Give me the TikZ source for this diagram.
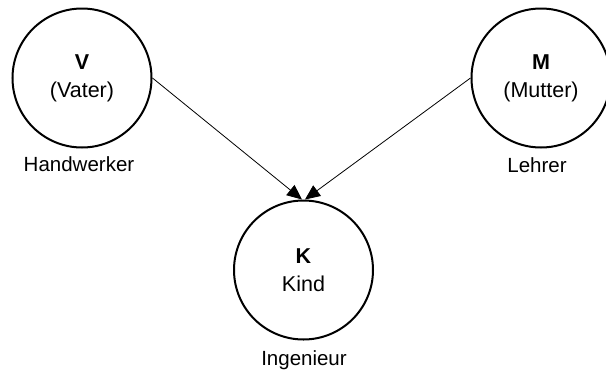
\documentclass[tikz,border=0pt]{standalone}
\usepackage{fontspec}
\setmainfont{Liberation Sans}
\usetikzlibrary{arrows.meta}
\begin{document}
\begin{tikzpicture}[x=1pt,y=-1pt,
  state/.style={circle,draw,line width=2pt,minimum size=139pt,inner sep=0pt,
    align=center,font=\fontsize{21.5}{28}\selectfont},
  caption/.style={inner sep=0pt,font=\fontsize{20.5}{25}\selectfont},
  link/.style={line width=0.8pt,-{Triangle[length=15pt,width=13pt]}}]
\useasboundingbox (0,0) rectangle (606,373);
\node[state] (V) at (82,78) {\textbf{V}\\(Vater)};
\node[state] (M) at (541,78) {\textbf{M}\\(Mutter)};
\node[state] (K) at (303.5,270) {\textbf{K}\\Kind};
\node[caption] (hv) at (79,164) {Handwerker};
\node[caption] (hm) at (537,165) {Lehrer};
\node[caption] (hk) at (304,360) {Ingenieur};
\draw[link] (V.east) -- ([xshift=-1.5pt]K.north);
\draw[link] (M.west) -- ([xshift=1.5pt]K.north);
\end{tikzpicture}
\end{document}
